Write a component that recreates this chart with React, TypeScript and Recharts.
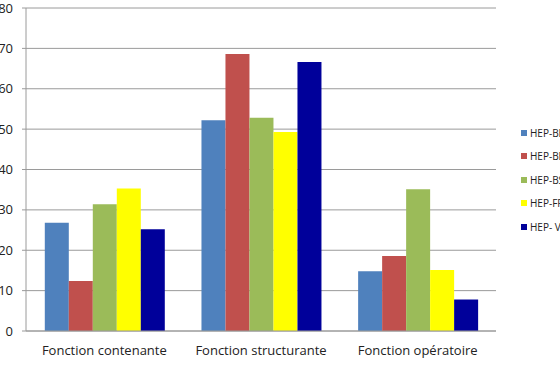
import React from 'react';
import { BarChart, Bar, XAxis, YAxis, CartesianGrid, Legend } from 'recharts';

const categories = ['Fonction contenante', 'Fonction structurante', 'Fonction opératoire'];
const seriesNames = ['HEP-BEJUNE', 'HEP-BE', 'HEP-BS', 'HEP-FR', 'HEP- VS'];
const seriesColors = ['#4F81BD', '#C0504D', '#9BBB59', '#FFFF00', '#00009A'];
const hepBejune = [26.8, 52.2, 14.8];
const hepBe = [12.4, 68.6, 18.6];
const hepBs = [31.4, 52.8, 35.1];
const hepFr = [35.3, 49.3, 15.1];
const hepVs = [25.2, 66.6, 7.8];
const yTicks = [0, 10, 20, 30, 40, 50, 60, 70, 80];
const edgeTicks = [0, 1, 2, 3];

const seriesValues = [hepBejune, hepBe, hepBs, hepFr, hepVs];
const data = categories.map((name, i) => {
  const row: Record<string, string | number> = { name };
  seriesNames.forEach((s, k) => {
    row[s] = seriesValues[k][i];
  });
  return row;
});

const FONT = '"Open Sans", "Noto Sans", sans-serif';
const GRID = '#9A9A9A';
const TEXT = '#222';

const pageCss = `
html, body { margin: 0; padding: 0; }
#root { overflow: visible; }
`;

const LegendContent = () => (
  <div style={{ fontFamily: FONT, fontSize: 10, color: TEXT }}>
    {seriesNames.map((s, k) => (
      <div key={s} style={{ display: 'flex', alignItems: 'center', height: 23.5, whiteSpace: 'nowrap' }}>
        <span style={{ display: 'inline-block', width: 6, height: 6, background: seriesColors[k], marginRight: 3, flex: 'none' }} />
        <span>{s}</span>
      </div>
    ))}
  </div>
);

export default function App() {
  return (
    <div style={{ width: 560, height: 367, background: '#fff' }}>
      <style>{pageCss}</style>
      <BarChart
        width={560}
        height={367}
        data={data}
        margin={{ top: 8, right: 64, bottom: 0, left: 0 }}
        barCategoryGap="12%"
        barGap={0}
      >
        <CartesianGrid horizontal vertical={false} stroke={GRID} strokeWidth={1} />
        <XAxis
          xAxisId="edges"
          type="number"
          domain={[0, 3]}
          ticks={edgeTicks}
          allowDataOverflow
          height={0}
          axisLine={false}
          tickLine={{ stroke: GRID }}
          tickSize={4}
          tickFormatter={() => ''}
        />
        <XAxis
          dataKey="name"
          height={36}
          axisLine={{ stroke: GRID }}
          tickLine={false}
          tickSize={4}
          tickMargin={11}
          tick={{ fill: TEXT, fontSize: 13, fontFamily: FONT }}
          interval={0}
        />
        <YAxis
          width={26}
          domain={[0, 80]}
          ticks={yTicks}
          axisLine={{ stroke: GRID }}
          tickLine={{ stroke: GRID }}
          tickSize={4}
          tickMargin={9}
          tick={{ fill: TEXT, fontSize: 13, fontFamily: FONT }}
        />
        <Legend
          layout="vertical"
          align="center"
          verticalAlign="middle"
          content={<LegendContent />}
          wrapperStyle={{ left: 521, top: 121, width: 39, overflow: 'hidden' }}
        />
        {seriesNames.map((s, k) => (
          <Bar key={s} dataKey={s} fill={seriesColors[k]} isAnimationActive={false} />
        ))}
      </BarChart>
    </div>
  );
}
